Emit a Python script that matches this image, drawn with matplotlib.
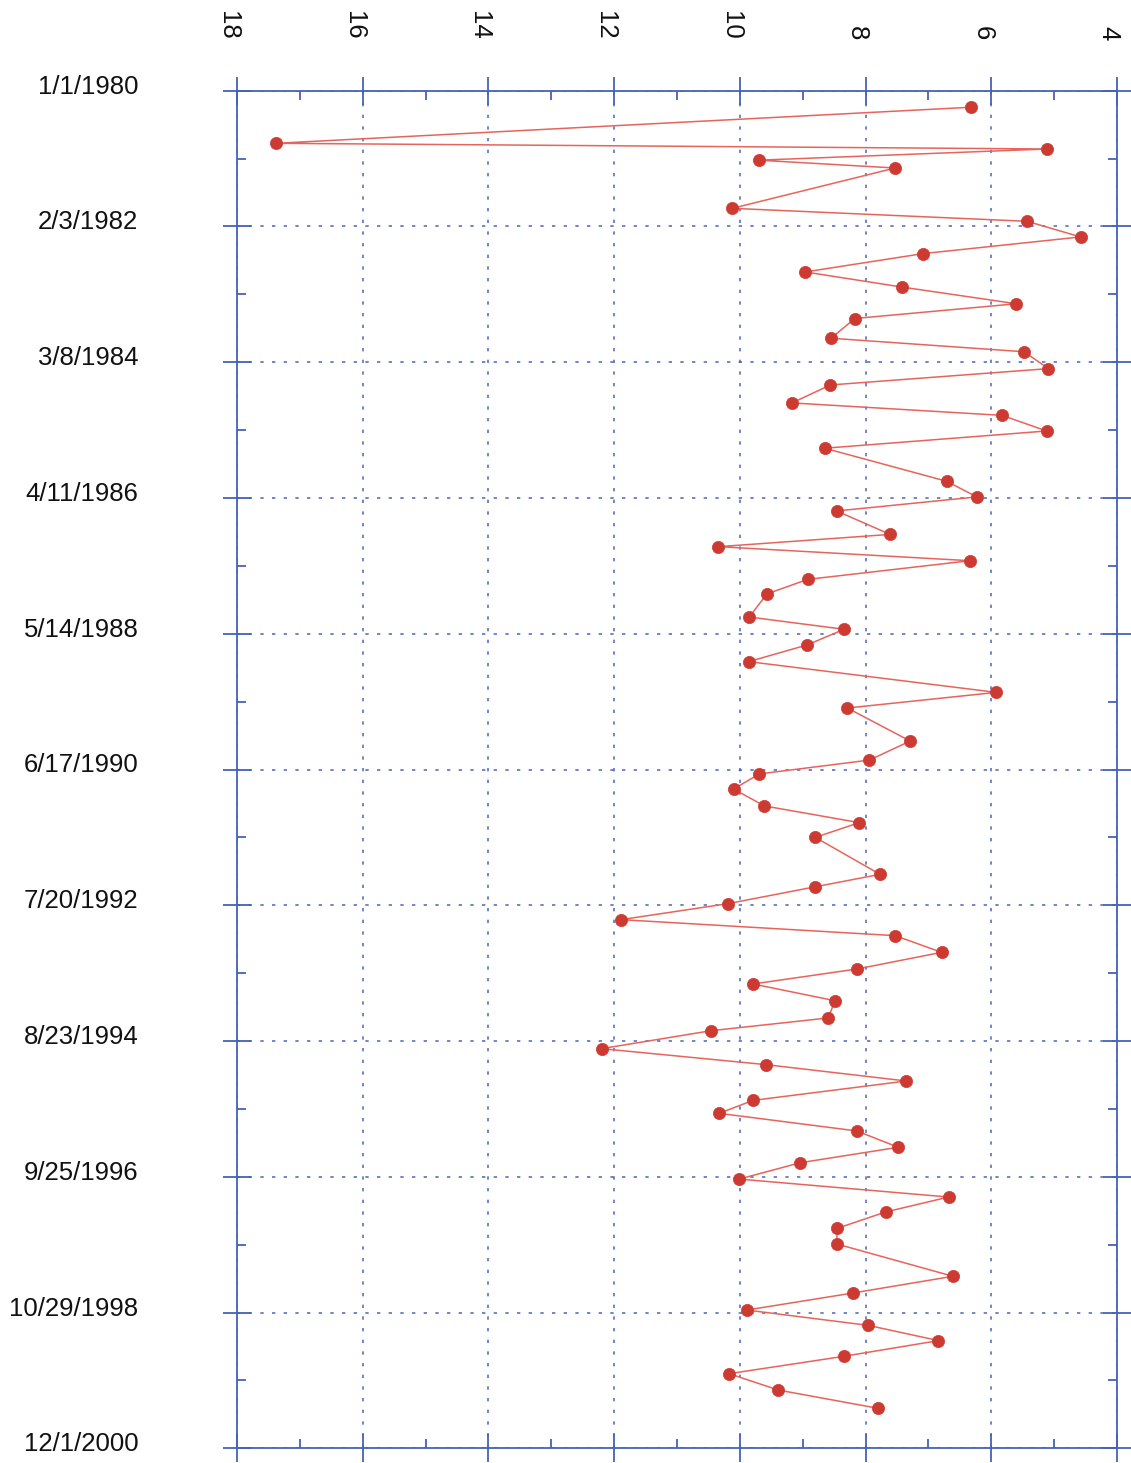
import matplotlib
matplotlib.use("Agg")
import matplotlib.pyplot as plt
import matplotlib.dates as mdates
import matplotlib.transforms as mtransforms
from matplotlib.ticker import FixedLocator, MultipleLocator
from datetime import datetime

# Sample dates and measured values
dates = [
    "1980-04-03", "1980-10-23", "1980-11-24", "1981-01-26", "1981-03-11",
    "1981-10-24", "1982-01-05", "1982-04-03", "1982-07-06", "1982-10-17",
    "1983-01-10", "1983-04-14", "1983-07-06", "1983-10-25", "1984-01-09",
    "1984-04-13", "1984-07-14", "1984-10-23", "1985-01-01", "1985-03-30",
    "1985-07-05", "1986-01-07", "1986-04-05", "1986-06-23", "1986-11-02",
    "1987-01-10", "1987-03-30", "1987-07-13", "1987-10-03", "1988-02-10",
    "1988-04-19", "1988-07-16", "1988-10-18", "1989-04-09", "1989-07-06",
    "1990-01-08", "1990-04-25", "1990-07-12", "1990-10-05", "1991-01-08",
    "1991-04-12", "1991-07-04", "1992-01-28", "1992-04-07", "1992-07-11",
    "1992-10-09", "1993-01-07", "1993-04-11", "1993-07-14", "1993-10-06",
    "1994-01-08", "1994-04-15", "1994-06-26", "1994-10-05", "1995-01-03",
    "1995-04-05", "1995-07-23", "1995-10-04", "1996-01-11", "1996-04-12",
    "1996-07-08", "1996-10-08", "1997-01-17", "1997-04-11", "1997-07-12",
    "1997-10-08", "1998-04-08", "1998-07-11", "1998-10-15", "1999-01-09",
    "1999-04-05", "1999-07-02", "1999-10-08", "2000-01-08", "2000-04-20",
]
values = [
    6.32, 17.38, 5.12, 9.70, 7.53,
    10.12, 5.43, 4.58, 7.09, 8.96,
    7.42, 5.60, 8.17, 8.55, 5.48,
    5.09, 8.56, 9.17, 5.83, 5.12,
    8.65, 6.71, 6.23, 8.46, 7.61,
    10.34, 6.34, 8.92, 9.57, 9.85,
    8.34, 8.93, 9.86, 5.92, 8.29,
    7.29, 7.94, 9.69, 10.10, 9.61,
    8.10, 8.80, 7.77, 8.80, 10.19,
    11.89, 7.53, 6.79, 8.14, 9.79,
    8.49, 8.59, 10.46, 12.20, 9.58,
    7.35, 9.79, 10.33, 8.14, 7.48,
    9.04, 10.01, 6.68, 7.68, 8.45,
    8.46, 6.61, 8.20, 9.89, 7.96,
    6.84, 8.34, 10.17, 9.39, 7.80,
]

date_tick_labels = [
    "1/1/1980", "2/3/1982", "3/8/1984", "4/11/1986", "5/14/1988",
    "6/17/1990", "7/20/1992", "8/23/1994", "9/25/1996", "10/29/1998",
    "12/1/2000",
]
value_ticks = [18, 16, 14, 12, 10, 8, 6, 4]

BLUE = "#4662b8"
LINE_RED = "#e6645c"
DOT_RED = "#cc3a31"
FONT = "Liberation Sans"

plt.rcParams["font.family"] = [FONT, "DejaVu Sans"]

W, H = 1131, 1463
fig = plt.figure(figsize=(W / 100, H / 100), dpi=100)
fig.patch.set_facecolor("white")
ax = fig.add_axes([237 / W, 1 - 1448.3 / H, 880 / W, (1448.3 - 90.7) / H])

y = mdates.date2num([datetime.strptime(d, "%Y-%m-%d") for d in dates])
ytick_pos = mdates.date2num([datetime.strptime(s, "%m/%d/%Y") for s in date_tick_labels])
yminor_pos = [(a + b) / 2 for a, b in zip(ytick_pos[:-1], ytick_pos[1:])]

ax.plot(values, y, color=LINE_RED, lw=1.1, zorder=3)
ax.plot(values, y, "o", ms=8.8, color=DOT_RED, mec=DOT_RED, mew=0.5, zorder=4)

ax.set_xlim(18, 4)
ax.set_ylim(ytick_pos[-1], ytick_pos[0])

# value axis across the top, labels turned sideways
ax.xaxis.set_major_locator(FixedLocator(value_ticks))
ax.xaxis.set_minor_locator(MultipleLocator(1))
ax.set_xticklabels([str(v) for v in value_ticks])
ax.tick_params(axis="x", which="both", top=True, bottom=True,
               labeltop=True, labelbottom=False, colors=BLUE, labelcolor="#111111")
ax.tick_params(axis="x", which="major", direction="inout", length=20, width=1.3,
               pad=26.5, labelsize=18.5, labelrotation=270)
ax.tick_params(axis="x", which="minor", direction="in", length=6.5, width=1.3)

# date axis on the left
ax.yaxis.set_major_locator(FixedLocator(ytick_pos))
ax.yaxis.set_minor_locator(FixedLocator(yminor_pos))
ax.set_yticklabels(date_tick_labels)
ax.tick_params(axis="y", which="both", left=True, right=True,
               labelleft=True, labelright=False, colors=BLUE, labelcolor="#111111")
ax.tick_params(axis="y", which="major", direction="inout", length=20, width=1.3,
               pad=61, labelsize=18.5)
ax.tick_params(axis="y", which="minor", direction="in", length=6.5, width=1.3)

for sp in ax.spines.values():
    sp.set_color(BLUE)
    sp.set_linewidth(1.3)

ax.grid(which="major", color=BLUE, linestyle=(0, (2, 5)), linewidth=1.2, alpha=0.9)
ax.set_axisbelow(True)

# small nudges of the tick labels relative to their ticks
fig.canvas.draw()
x_shift = mtransforms.ScaledTranslation(-9 / 100, 0, fig.dpi_scale_trans)
y_shift = mtransforms.ScaledTranslation(0, 6.5 / 100, fig.dpi_scale_trans)
for t in ax.xaxis.get_major_ticks():
    t.label2.set_transform(t.label2.get_transform() + x_shift)
for t in ax.yaxis.get_major_ticks():
    t.label1.set_transform(t.label1.get_transform() + y_shift)

fig.savefig("out.png", dpi=100, facecolor="white")
